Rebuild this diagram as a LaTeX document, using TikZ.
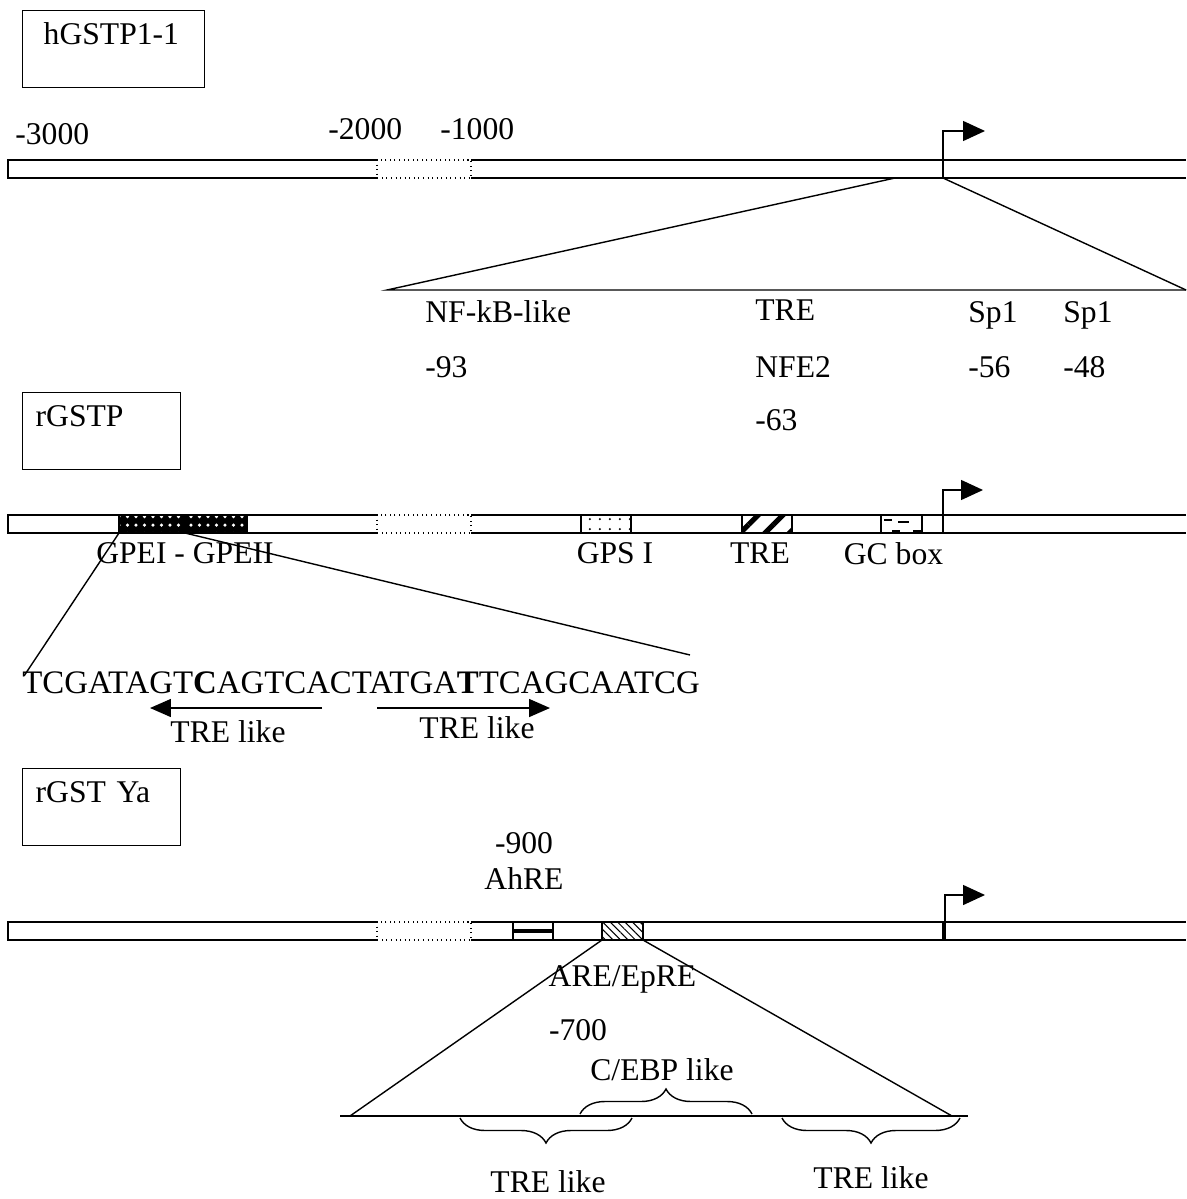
\documentclass[tikz,border=0pt]{standalone}
\usepackage{fontspec}
\setmainfont{Liberation Serif}
\usepackage{tikz}
\usetikzlibrary{arrows.meta, positioning, patterns.meta, decorations.pathreplacing}
\definecolor{ink}{HTML}{000000}
\tikzset{
  lbl/.style={inner sep=0pt, text=ink, font=\fontsize{18}{21}\selectfont},
  namebox/.style={lbl, draw=ink, line width=0.8pt, anchor=north west, align=left,
                  inner ysep=0pt, text height=0.68cm, text depth=0.86cm},
  bar/.style={draw=ink, line width=0.6pt},
  gap/.style={draw=ink, line width=0.6pt, dotted},
  elem/.style={rectangle, draw=ink, line width=0.6pt, anchor=north west,
               inner sep=0pt, outer sep=0pt, minimum height=0.36cm},
  zoomline/.style={draw=ink, line width=0.8pt},
  tss/.style={draw=ink, line width=0.8pt, -{Triangle[length=0.44cm, width=0.4cm]}},
  orient/.style={draw=ink, line width=0.9pt, -{Triangle[length=0.42cm, width=0.36cm]}},
  curly/.style={draw=ink, line width=0.8pt, decorate,
                decoration={brace, amplitude=0.5cm}},
}
\newcommand{\dnabar}[1]{% top edge of the bar
  \draw[bar] (377,#1) -- (8,#1) -- (8,#1+18) -- (377,#1+18);
  \draw[gap] (377,#1) rectangle (471,#1+18);
  \draw[bar] (471,#1) -- (943,#1) -- (943,#1+18) -- (471,#1+18);
  \draw[bar] (943,#1) -- (1186,#1) (943,#1+18) -- (1186,#1+18);}

\begin{document}
\begin{tikzpicture}[x=0.02cm, y=-0.02cm]
  \useasboundingbox (0,0) rectangle (1186,1199);

  % hGSTP1-1
  \node[namebox, inner xsep=0.42cm, text width=2.8cm] (hbox) at (22,10) {hGSTP1-1};
  \node[lbl, anchor=base west] (m3000) at (15,145) {-3000};
  \node[lbl, anchor=base west] (m2000) at (328,140) {-2000};
  \node[lbl, anchor=base west] (m1000) at (440,140) {-1000};
  \dnabar{160}
  \coordinate (h-tss) at (943,178);
  \coordinate (h-tip) at (985,131);
  \draw[tss] (h-tss) |- (h-tip);
  \coordinate (h-a) at (895,178);
  \coordinate (h-l) at (387,290);
  \coordinate (h-r) at (1186,290);
  \draw[zoomline] (h-a) -- (h-l) -- (h-r);
  \draw[zoomline] (h-tss) -- (h-r);

  \node[lbl, anchor=base west] (nfkb) at (425,322) {NF-kB-like};
  \node[lbl, anchor=base west] (p93) at (425,377) {-93};
  \node[lbl, anchor=base west] (tre1) at (755,320) {TRE};
  \node[lbl, anchor=base west] (nfe2) at (755,377) {NFE2};
  \node[lbl, anchor=base west] (p63) at (755,430) {-63};
  \node[lbl, anchor=base west] (sp1a) at (968,322) {Sp1};
  \node[lbl, anchor=base west] (p56) at (968,377) {-56};
  \node[lbl, anchor=base west] (sp1b) at (1063,322) {Sp1};
  \node[lbl, anchor=base west] (p48) at (1063,377) {-48};

  % rGSTP
  \node[namebox, inner xsep=0.26cm, text width=2.64cm] (rbox) at (22,392) {rGSTP};
  \dnabar{515}
  \node[elem, minimum width=1.32cm, preaction={fill=ink},
        pattern={Dots[distance=0.17cm, radius=1pt, yshift=0.05cm]}, pattern color=white] (gpe1) at (119,515) {};
  \node[elem, minimum width=1.24cm, preaction={fill=ink},
        pattern={Dots[distance=0.17cm, radius=1pt, xshift=0.08cm, yshift=0.05cm]}, pattern color=white,
        right=0pt of gpe1] (gpe2) {};
  \node[elem, minimum width=1cm, pattern={Dots[distance=0.2cm, radius=0.7pt]}] (gps) at (581,515) {};
  \node[elem, minimum width=1cm, pattern={Lines[angle=45, distance=0.35cm, line width=3pt]}] (tre2) at (742,515) {};
  \node[elem, minimum width=0.82cm] (gc) at (881,515) {};
  \draw[line width=1.4pt] (884,520) -- (892,520) (898,522) -- (909,522)
    (892,531) -- (900,531) (913,531) -- (921,531);

  \node[lbl, below=0.19cm of gpe1.south east] (gpelbl) {GPEI - GPEII};
  \node[lbl, below=0.19cm of gps, xshift=0.18cm] (gpslbl) {GPS I};
  \node[lbl, below=0.19cm of tre2, xshift=-0.14cm] (trelbl) {TRE};
  \node[lbl, below=0.19cm of gc, xshift=-0.16cm] (gclbl) {GC box};

  \coordinate (r-tss) at (943,533);
  \coordinate (r-tip) at (983,490);
  \draw[tss] (r-tss) |- (r-tip);

  \coordinate (seq-l) at (24,676);
  \coordinate (seq-r) at (690,655);
  \draw[zoomline] (gpe1.south west) -- (seq-l);
  \draw[zoomline] (gpe2.south west) -- (seq-r);

  \node[lbl, anchor=base west, font=\fontsize{18.7}{21}\selectfont] (seq) at (22,693)
    {TCGATAGT\textbf{C}AGTCACTATGA\textbf{T}TCAGCAATCG};
  \coordinate (o1s) at (322,708);
  \coordinate (o1e) at (150,708);
  \coordinate (o2s) at (377,708);
  \coordinate (o2e) at (550,708);
  \draw[orient] (o1s) -- (o1e);
  \draw[orient] (o2s) -- (o2e);
  \node[lbl, anchor=base] (trel1) at (228,742) {TRE like};
  \node[lbl, anchor=base] (trel2) at (477,738) {TRE like};

  % rGST Ya
  \node[namebox, inner xsep=0.26cm, text width=2.64cm] (ybox) at (22,768) {rGST Ya};
  \dnabar{922}
  \node[elem, minimum width=0.8cm, fill=white] (ahre) at (513,922) {};
  \draw[line width=2.8pt] (ahre.west) -- (ahre.east);
  \node[elem, minimum width=0.82cm,
        pattern={Lines[angle=-45, distance=3pt, line width=0.6pt]}] (are) at (602,922) {};
  \node[lbl, above=0.64cm of ahre, xshift=-0.18cm] (ahrelbl) {AhRE};
  \node[lbl, above=0.26cm of ahrelbl] (p900) {-900};
  \node[lbl, below=0.5cm of are] (arelbl) {ARE/EpRE};
  \node[lbl, anchor=base] (p700) at (578,1040) {-700};

  \coordinate (y-tss) at (945,940);
  \coordinate (y-tip) at (985,895);
  \draw[tss] (y-tss) |- (y-tip);

  \coordinate (ya-l) at (350,1116);
  \coordinate (ya-r) at (952,1116);
  \coordinate (ya-b1) at (340,1116);
  \coordinate (ya-b2) at (968,1116);
  \draw[zoomline] (are.south west) -- (ya-l);
  \draw[zoomline] (are.south east) -- (ya-r);
  \draw[zoomline] (ya-b1) -- (ya-b2);

  \coordinate (ce-a) at (580,1114);
  \coordinate (ce-b) at (752,1114);
  \coordinate (tl-a) at (632,1118);
  \coordinate (tl-b) at (460,1118);
  \coordinate (tr-a) at (960,1118);
  \coordinate (tr-b) at (782,1118);
  \draw[curly] (ce-a) -- (ce-b);
  \draw[curly] (tl-a) -- (tl-b);
  \draw[curly] (tr-a) -- (tr-b);
  \node[lbl, anchor=base] (cebp) at (662,1080) {C/EBP like};
  \node[lbl, anchor=base] (trel3) at (548,1192) {TRE like};
  \node[lbl, anchor=base] (trel4) at (871,1188) {TRE like};
\end{tikzpicture}
\end{document}
